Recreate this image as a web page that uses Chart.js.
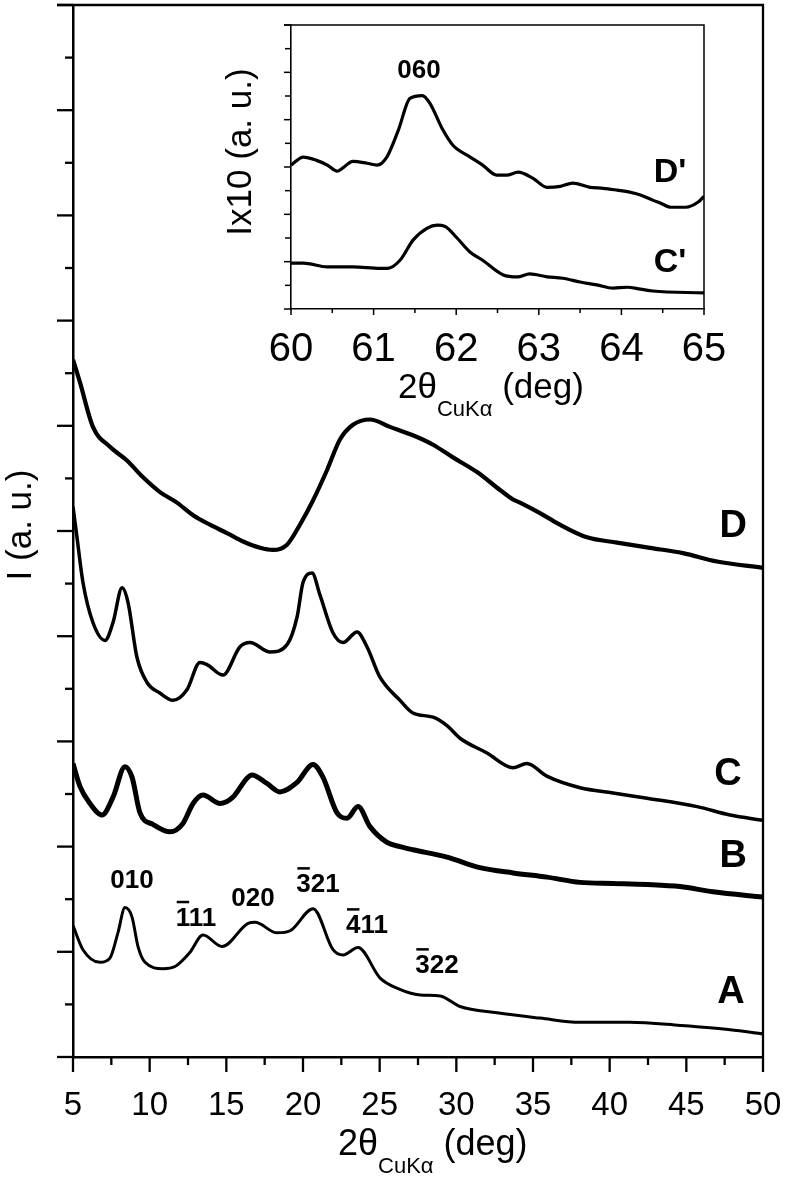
<!DOCTYPE html>
<html>
<head>
<meta charset="utf-8">
<script src="https://cdn.jsdelivr.net/npm/chart.js@4.4.1/dist/chart.umd.min.js"></script>
<style>
  html, body { margin: 0; padding: 0; background: #fff; }
  #wrap  { position: relative; width: 787px; height: 1180px; }
  #main  { position: absolute; left: 0; top: 0; }
  #inset { position: absolute; left: 180px; top: 0; }
</style>
</head>
<body>
<div id="wrap">
  <canvas id="main" width="787" height="1180"></canvas>
  <canvas id="inset" width="560" height="430"></canvas>
</div>
<script>
// ============================================================
//  Difractogramas A-D (2θ CuKα) + recuadro 060 (C', D')
// ============================================================

// --- curva A
const thetaA = [5.0, 5.65, 6.76, 7.41, 7.93, 8.39, 8.85, 9.24, 9.70, 10.87, 11.65, 12.6, 13.48, 14.72, 16.42, 16.87,
                18.31, 19.16, 20.66, 21.96, 22.61, 23.59, 25.03, 26.2, 27.64, 28.94, 30.24, 32.66, 35.46, 38.07,
                41.33, 44.6, 47.86, 50.0];
const intA   = [1.25, 1.02, 0.90, 0.94, 1.18, 1.42, 1.33, 1.05, 0.90, 0.84, 0.86, 0.99, 1.16, 1.05, 1.27, 1.28,
                1.18, 1.20, 1.41, 1.02, 0.97, 1.04, 0.75, 0.65, 0.59, 0.58, 0.48, 0.42, 0.37, 0.33,
                0.33, 0.30, 0.26, 0.22];

// --- curva B
const thetaB = [5.0, 5.46, 6.11, 6.89, 7.61, 8.39, 8.85, 9.37, 10.22, 11.33, 12.17, 12.83, 13.48, 14.59, 15.43,
                16.35, 16.67, 17.65, 18.5, 19.61, 20.65, 21.3, 22.22, 22.87, 23.59, 24.37, 25.48, 26.33, 27.17,
                29.39, 31.54, 33.7, 35.91, 38.07, 40.22, 42.44, 44.59, 46.74, 50.0];
const intB   = [2.79, 2.57, 2.41, 2.30, 2.47, 2.76, 2.66, 2.32, 2.21, 2.14, 2.22, 2.41, 2.49, 2.41, 2.47,
                2.65, 2.68, 2.60, 2.52, 2.61, 2.78, 2.66, 2.32, 2.27, 2.38, 2.19, 2.04, 2.00, 1.97,
                1.90, 1.80, 1.75, 1.71, 1.66, 1.65, 1.64, 1.62, 1.57, 1.52];

// --- curva C
const thetaC = [5.0, 5.26, 5.65, 6.30, 7.09, 7.61, 8.20, 8.59, 9.17, 9.83, 10.67, 11.52, 12.43, 13.28, 13.74,
                14.78, 15.89, 16.54, 17.85, 18.96, 19.61, 20.0, 20.59, 21.11, 21.96, 22.61, 23.52, 24.17, 25.02,
                26.33, 27.17, 28.48, 29.39, 30.24, 32.0, 33.7, 34.6, 35.9, 38.07, 40.22, 42.44, 45.7, 47.85, 50.0];
const intC   = [5.23, 4.94, 4.51, 4.13, 3.96, 4.13, 4.46, 4.32, 3.80, 3.56, 3.46, 3.39, 3.49, 3.75, 3.73,
                3.63, 3.90, 3.94, 3.85, 3.92, 4.18, 4.51, 4.60, 4.39, 4.03, 3.94, 4.04, 3.90, 3.61,
                3.39, 3.27, 3.23, 3.15, 3.03, 2.89, 2.75, 2.79, 2.67, 2.56, 2.51, 2.46, 2.38, 2.30, 2.25];

// --- curva D
const thetaD = [5.0, 5.46, 6.30, 7.41, 8.52, 9.57, 10.67, 11.78, 12.83, 13.93, 15.04, 16.09, 17.20, 18.04, 18.96,
                19.80, 20.65, 21.57, 22.41, 23.26, 24.37, 25.67, 27.17, 28.48, 29.78, 31.35, 32.85, 33.70, 34.15,
                35.46, 36.63, 38.52, 40.48, 42.63, 44.78, 47.0, 50.0];
const intD   = [6.63, 6.41, 5.99, 5.80, 5.67, 5.51, 5.37, 5.27, 5.15, 5.06, 4.98, 4.90, 4.84, 4.82, 4.87,
                5.06, 5.29, 5.58, 5.87, 6.01, 6.06, 5.99, 5.91, 5.82, 5.70, 5.56, 5.39, 5.30, 5.27,
                5.17, 5.07, 4.94, 4.89, 4.84, 4.79, 4.71, 4.65];

// --- recuadro: C' y D'
const thetaDp = [60.0, 60.15, 60.31, 60.44, 60.56, 60.62, 60.75, 60.92, 61.04, 61.16, 61.30, 61.44, 61.59, 61.68,
                 61.84, 61.96, 62.17, 62.32, 62.49, 62.61, 62.75, 62.93, 63.10, 63.26, 63.41, 63.62, 63.78, 63.95,
                 64.10, 64.23, 64.38, 64.47, 64.60, 64.78, 64.93, 65.0];
const intDp   = [3.04, 3.21, 3.14, 3.04, 2.91, 2.97, 3.12, 3.08, 3.04, 3.21, 3.78, 4.45, 4.51, 4.35,
                 3.78, 3.46, 3.21, 3.04, 2.83, 2.83, 2.89, 2.76, 2.57, 2.59, 2.66, 2.57, 2.55, 2.51,
                 2.47, 2.41, 2.30, 2.24, 2.15, 2.15, 2.26, 2.38];
const thetaCp = [60.0, 60.15, 60.44, 60.75, 61.08, 61.17, 61.32, 61.48, 61.65, 61.77, 61.86, 62.01, 62.17, 62.32,
                 62.57, 62.74, 62.89, 63.10, 63.29, 63.50, 63.70, 63.90, 64.07, 64.23, 64.38, 65.0];
const intCp   = [0.97, 0.97, 0.89, 0.89, 0.86, 0.86, 1.03, 1.46, 1.71, 1.77, 1.75, 1.50, 1.20, 1.03,
                 0.72, 0.68, 0.74, 0.68, 0.65, 0.57, 0.51, 0.44, 0.46, 0.42, 0.38, 0.34];

// --- ticks
const xTicksMain  = [5, 10, 15, 20, 25, 30, 35, 40, 45, 50];
const xTicksInset = [60, 61, 62, 63, 64, 65];

// --- etiquetas de curvas y de picos (posición en unidades de datos, base del texto)
const curveNames = ['A', 'B', 'C', 'D'];
const curveLblX  = [47.91, 48.05, 47.72, 48.05];
const curveLblY  = [0.51, 1.81, 2.59, 4.94];

const peakNames = ['010', '111', '020', '321', '411', '322'];
const peakBar   = [-1, 0, -1, 0, 0, 0];          // índice del dígito con barra (negativo)
const peakX     = [8.85, 13.02, 16.74, 20.98, 24.17, 28.74];
const peakY     = [1.61, 1.25, 1.44, 1.57, 1.18, 0.80];

const insetNames = ["D'", "C'"];
const insetLblX  = [64.59, 64.59];
const insetLblY  = [2.68, 0.78];

const FONT = "'Liberation Sans', Arial, Helvetica, sans-serif";

function serie(xs, ys, width) {
  return {
    data: xs.map((x, i) => ({ x, y: ys[i] })),
    borderColor: '#000',
    borderWidth: width,
    pointRadius: 0,
    cubicInterpolationMode: 'monotone',
    fill: false
  };
}

// Título con subíndice: 2θ_CuKα (deg)
function tituloX(ctx, x0, base, big, small) {
  ctx.textAlign = 'left';
  ctx.textBaseline = 'alphabetic';
  ctx.font = `${big}px ${FONT}`;
  ctx.fillText('2θ', x0, base);
  let x = x0 + ctx.measureText('2θ').width;
  ctx.font = `${small}px ${FONT}`;
  ctx.fillText('CuKα', x, base + small * 0.8);
  x += ctx.measureText('CuKα').width;
  ctx.font = `${big}px ${FONT}`;
  ctx.fillText(' (deg)', x, base);
}

function tituloY(ctx, txt, cx, cy, size) {
  ctx.save();
  ctx.translate(cx, cy);
  ctx.rotate(-Math.PI / 2);
  ctx.font = `${size}px ${FONT}`;
  ctx.textAlign = 'center';
  ctx.textBaseline = 'middle';
  ctx.fillText(txt, 0, 0);
  ctx.restore();
}

// Texto centrado con barra encima de un dígito (índices de Miller negativos)
function textoBarra(ctx, txt, bar, cx, base, size) {
  ctx.font = `bold ${size}px ${FONT}`;
  ctx.textAlign = 'left';
  ctx.textBaseline = 'alphabetic';
  const w = ctx.measureText(txt).width;
  const x0 = cx - w / 2;
  ctx.fillText(txt, x0, base);
  if (bar >= 0) {
    const pre = ctx.measureText(txt.slice(0, bar)).width;
    const cw  = ctx.measureText(txt[bar]).width;
    ctx.fillRect(x0 + pre + 1, base - size * 0.72 - 6, cw - 2, 2.5);
  }
}

// Marco + ticks mayores/menores hacia fuera
function marcoPlugin(cfg) {
  return {
    id: 'marco',
    afterDraw(chart) {
      const { ctx, chartArea: a, scales: { x, y } } = chart;
      ctx.save();
      ctx.strokeStyle = '#000';
      ctx.fillStyle = '#000';
      ctx.lineWidth = cfg.lw;
      ctx.beginPath();
      ctx.moveTo(a.left - cfg.yLen[0], a.top);
      ctx.lineTo(a.right, a.top);
      ctx.lineTo(a.right, a.bottom);
      ctx.stroke();

      for (let v = x.min; v <= x.max + 1e-6; v += cfg.xMinor) {
        const major = Math.abs(v / cfg.xMajor - Math.round(v / cfg.xMajor)) < 1e-6;
        const px = x.getPixelForValue(v);
        ctx.beginPath();
        ctx.moveTo(px, a.bottom);
        ctx.lineTo(px, a.bottom + (major ? cfg.xLen[0] : cfg.xLen[1]));
        ctx.stroke();
      }
      for (let v = y.min; v <= y.max + 1e-6; v += cfg.yMinor) {
        const major = Math.abs(v - Math.round(v)) < 1e-6;
        const py = y.getPixelForValue(v);
        ctx.beginPath();
        ctx.moveTo(a.left, py);
        ctx.lineTo(a.left - (major ? cfg.yLen[0] : cfg.yLen[1]), py);
        ctx.stroke();
      }
      cfg.extra(ctx, a, x, y);
      ctx.restore();
    }
  };
}

const ejeComun = (min, max, step, size, pad, h) => ({
  type: 'linear', min, max,
  ticks: { stepSize: step, color: '#000', font: { family: FONT, size }, padding: pad, maxRotation: 0 },
  grid: { display: false, drawTicks: false },
  border: { display: true, color: '#000' },
  afterFit: s => { s.height = h; s.paddingLeft = 0; s.paddingRight = 0; }
});

// ---------------- gráfica principal ----------------
const xMain = ejeComun(5, 50, 5, 33, 29, 123);
xMain.border.width = 2.5;
xMain.afterBuildTicks = s => { s.ticks = xTicksMain.map(v => ({ value: v })); };

new Chart(document.getElementById('main'), {
  type: 'line',
  data: {
    datasets: [
      serie(thetaA, intA, 3),
      serie(thetaB, intB, 5),
      serie(thetaC, intC, 3.5),
      serie(thetaD, intD, 4.2)
    ]
  },
  options: {
    responsive: false,
    animation: false,
    layout: { padding: { top: 5, right: 24, left: 0, bottom: 0 } },
    plugins: { legend: { display: false }, tooltip: { enabled: false } },
    scales: {
      x: xMain,
      y: {
        min: 0, max: 10,
        ticks: { display: false },
        grid: { display: false, drawTicks: false },
        border: { display: true, color: '#000', width: 2.5 },
        afterFit: s => { s.width = 73; s.paddingTop = 0; s.paddingBottom = 0; }
      }
    }
  },
  plugins: [marcoPlugin({
    lw: 2.3, xMinor: 2.5, xMajor: 5, yMinor: 0.5, xLen: [15, 8], yLen: [16, 8],
    extra(ctx, a, x, y) {
      tituloX(ctx, 338, 1155, 36, 22);
      tituloY(ctx, 'I (a. u.)', 21, 525, 35);
      ctx.font = `bold 38px ${FONT}`;
      ctx.textAlign = 'center';
      ctx.textBaseline = 'alphabetic';
      curveNames.forEach((n, i) => ctx.fillText(n, x.getPixelForValue(curveLblX[i]), y.getPixelForValue(curveLblY[i])));
      peakNames.forEach((n, i) => textoBarra(ctx, n, peakBar[i], x.getPixelForValue(peakX[i]), y.getPixelForValue(peakY[i]), 26));
    }
  })]
});

// ---------------- recuadro ----------------
const xIns = ejeComun(60, 65, 1, 40, 17, 121);
xIns.border.width = 1.6;
xIns.afterBuildTicks = s => { s.ticks = xTicksInset.map(v => ({ value: v })); };

new Chart(document.getElementById('inset'), {
  type: 'line',
  data: {
    datasets: [
      serie(thetaDp, intDp, 3.2),
      serie(thetaCp, intCp, 3.2)
    ]
  },
  options: {
    responsive: false,
    animation: false,
    layout: { padding: { top: 25, right: 36, left: 0, bottom: 0 } },
    plugins: { legend: { display: false }, tooltip: { enabled: false } },
    scales: {
      x: xIns,
      y: {
        min: 0, max: 6,
        ticks: { display: false },
        grid: { display: false, drawTicks: false },
        border: { display: true, color: '#000', width: 1.6 },
        afterFit: s => { s.width = 111; s.paddingTop = 0; s.paddingBottom = 0; }
      }
    }
  },
  plugins: [marcoPlugin({
    lw: 1.5, xMinor: 0.5, xMajor: 1, yMinor: 0.5, xLen: [6, 4], yLen: [7, 6],
    extra(ctx, a, x, y) {
      tituloX(ctx, 218, 398, 35, 22);
      tituloY(ctx, 'Ix10 (a. u.)', 61, 152, 35);
      ctx.font = `bold 34px ${FONT}`;
      ctx.textAlign = 'center';
      ctx.textBaseline = 'alphabetic';
      insetNames.forEach((n, i) => ctx.fillText(n, x.getPixelForValue(insetLblX[i]), y.getPixelForValue(insetLblY[i])));
      textoBarra(ctx, '060', -1, x.getPixelForValue(61.55), y.getPixelForValue(4.87), 26);
    }
  })]
});
</script>
</body>
</html>
